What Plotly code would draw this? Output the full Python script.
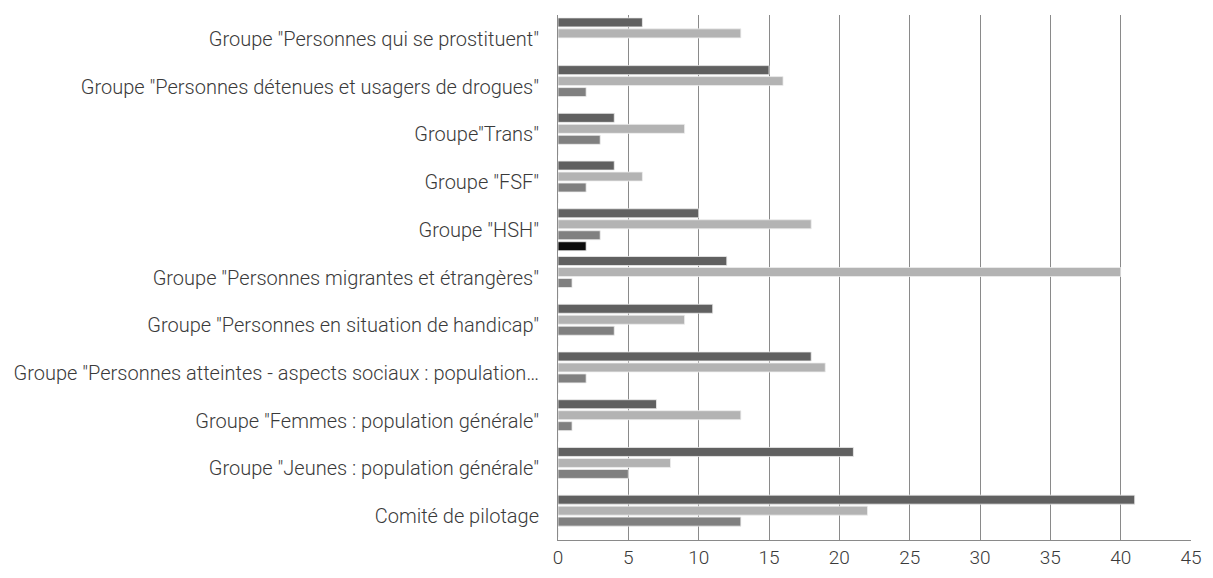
import plotly.graph_objects as go

categories = [
    "Comité de pilotage",
    'Groupe "Jeunes : population générale"',
    'Groupe "Femmes : population générale"',
    'Groupe "Personnes atteintes - aspects sociaux : population…',
    'Groupe "Personnes en situation de handicap"',
    'Groupe "Personnes migrantes et étrangères"',
    'Groupe "HSH"',
    'Groupe "FSF"',
    'Groupe"Trans"',
    'Groupe "Personnes détenues et usagers de drogues"',
    'Groupe "Personnes qui se prostituent"',
]
series1 = [41, 21, 7, 18, 11, 12, 10, 4, 4, 15, 6]
series2 = [22, 8, 13, 19, 9, 40, 18, 6, 9, 16, 13]
series3 = [13, 5, 1, 2, 4, 1, 3, 2, 3, 2, 0]
series4 = [0, 0, 0, 0, 0, 0, 2, 0, 0, 0, 0]

colors = ["#0c0c0c", "#808080", "#b3b3b3", "#606060"]
FONT = "Roboto, sans-serif"

fig = go.Figure()
for vals, col in zip([series4, series3, series2, series1], colors):
    fig.add_trace(go.Bar(
        y=categories, x=vals, orientation="h",
        marker=dict(color=col, line=dict(color="#eeeeee", width=0.8)),
        showlegend=False,
    ))

fig.update_layout(
    width=1197, height=562,
    barmode="group", bargap=0.08, bargroupgap=0.18,
    plot_bgcolor="white", paper_bgcolor="white",
    margin=dict(l=550, r=14, t=7, b=30),
    font=dict(family=FONT, size=20, color="#3a3a3a", weight=300),
    xaxis=dict(range=[0, 45], dtick=5, showgrid=True, gridcolor="#8a8a8a", gridwidth=1,
               showline=True, linecolor="#8a8a8a", linewidth=1, zeroline=False,
               ticklabelstandoff=0, ticklabeloverflow="allow", automargin=False,
               tickfont=dict(size=19, weight=300)),
    yaxis=dict(showgrid=False, showline=True, linecolor="#8a8a8a", linewidth=1,
               ticklabelstandoff=14, tickfont=dict(size=20, weight=300), automargin=False),
)
fig.write_html("out.html")
